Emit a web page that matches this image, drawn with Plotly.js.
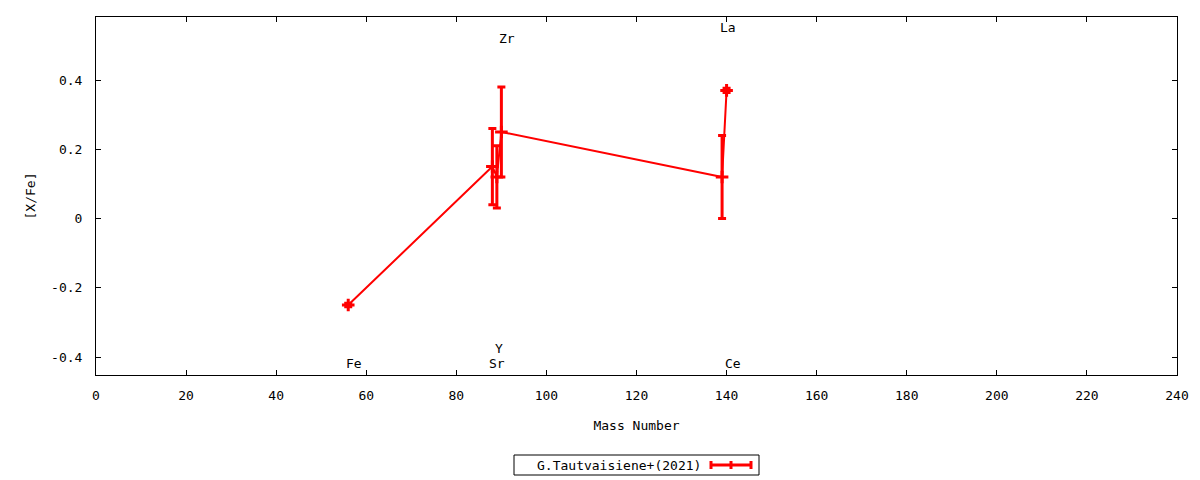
<!DOCTYPE html>
<html>
<head>
<meta charset="utf-8">
<script src="https://cdn.plot.ly/plotly-3.0.1.min.js"></script>
<style>html,body{margin:0;padding:0;background:#fff;}#chart{width:1200px;height:480px;}</style>
</head>
<body>
<div id="chart"></div>
<script>
// Data
const massNumber = [56, 88, 89, 90, 139, 140];
const abundance  = [-0.25, 0.15, 0.12, 0.25, 0.12, 0.37];
const abundErr   = [0.005, 0.11, 0.09, 0.13, 0.12, 0.006];
const seriesName = 'G.Tautvaisiene+(2021)';

// Element labels
const elemNames = ['Fe', 'Sr', 'Y', 'Zr', 'La', 'Ce'];
const elemX     = [57.2, 89.0, 89.4, 91.2, 140.3, 141.4];
const elemY     = [-0.42, -0.42, -0.376, 0.52, 0.553, -0.42];

// Tick labels
const yTickVals = [-0.4, -0.2, 0, 0.2, 0.4];
const yTickText = ['-0.4', '-0.2', '0', '0.2', '0.4'];
const xTickVals = [0, 20, 40, 60, 80, 100, 120, 140, 160, 180, 200, 220, 240];
const xTickText = xTickVals.map(String);

const FONT = 'DejaVu Sans Mono';
const FS = 13;
const RED = '#ff0000';

const trace = {
  x: massNumber,
  y: abundance,
  type: 'scatter',
  mode: 'lines+markers',
  name: seriesName,
  showlegend: false,
  line: {color: RED, width: 2},
  marker: {symbol: 'cross-thin', size: 9, color: RED, line: {color: RED, width: 3}},
  error_y: {type: 'data', array: abundErr, visible: true, color: RED, thickness: 3, width: 4}
};

const annotations = elemNames.map((n, i) => ({
  x: elemX[i], y: elemY[i], xref: 'x', yref: 'y', text: n, showarrow: false,
  xanchor: 'center', yanchor: 'middle', font: {family: FONT, size: FS, color: '#000'}
}));

// custom gnuplot-style legend (text left, sample right)
const px = p => (p - 96) / 1081;
const py = p => (375 - p) / 358;
annotations.push({
  x: px(703), y: py(465), xref: 'paper', yref: 'paper', text: seriesName, showarrow: false,
  xanchor: 'right', yanchor: 'middle', font: {family: FONT, size: FS, color: '#000'}
});
const shapes = [
  {type: 'rect', xref: 'paper', yref: 'paper', x0: px(514), x1: px(759), y0: py(475), y1: py(455),
   line: {color: '#000', width: 1}, fillcolor: 'rgba(0,0,0,0)'},
  {type: 'line', xref: 'paper', yref: 'paper', x0: px(710), x1: px(752), y0: py(465), y1: py(465),
   line: {color: RED, width: 3}},
  {type: 'line', xref: 'paper', yref: 'paper', x0: px(711), x1: px(711), y0: py(469), y1: py(461),
   line: {color: RED, width: 3}},
  {type: 'line', xref: 'paper', yref: 'paper', x0: px(731), x1: px(731), y0: py(469), y1: py(461),
   line: {color: RED, width: 3}},
  {type: 'line', xref: 'paper', yref: 'paper', x0: px(751), x1: px(751), y0: py(469), y1: py(461),
   line: {color: RED, width: 3}}
];

const axisCommon = {
  showgrid: false, zeroline: false, showline: true, linecolor: '#000', linewidth: 1,
  mirror: 'ticks', ticks: 'inside', ticklen: 5, tickcolor: '#000', tickwidth: 1,
  tickfont: {family: FONT, size: FS, color: '#000'}
};

const layout = {
  width: 1200, height: 480,
  margin: {l: 96, r: 23, t: 17, b: 105, pad: 0},
  paper_bgcolor: '#fff', plot_bgcolor: '#fff',
  font: {family: FONT, size: FS, color: '#000'},
  showlegend: false,
  xaxis: Object.assign({}, axisCommon, {
    range: [0, 240], tickmode: 'array', tickvals: xTickVals, ticktext: xTickText,
    ticklabelstandoff: 8,
    title: {text: 'Mass Number', font: {family: FONT, size: FS, color: '#000'}, standoff: 19}
  }),
  yaxis: Object.assign({}, axisCommon, {
    range: [-0.452, 0.582], tickmode: 'array', tickvals: yTickVals, ticktext: yTickText,
    ticklabelstandoff: 10,
    title: {text: '[X/Fe]', font: {family: FONT, size: FS, color: '#000'}, standoff: 12}
  }),
  annotations: annotations,
  shapes: shapes
};

Plotly.newPlot('chart', [trace], layout, {displayModeBar: false, staticPlot: true});
</script>
</body>
</html>
